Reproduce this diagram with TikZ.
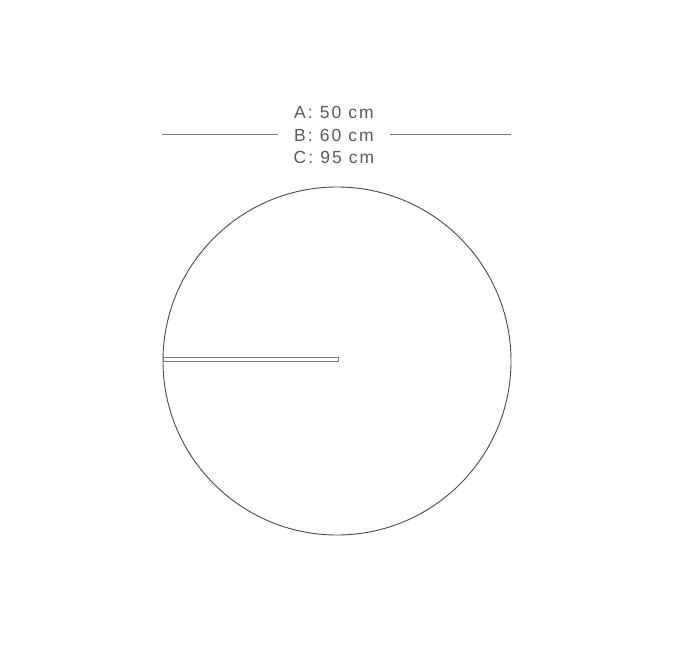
\documentclass[tikz,border=0pt]{standalone}
\usepackage{fontspec}
\setmainfont[LetterSpace=12]{Liberation Sans}
\definecolor{txtgray}{HTML}{5A5A5A}
\definecolor{linegray}{HTML}{7A7A7A}
\definecolor{circgray}{HTML}{4A4A4A}
\begin{document}
\begin{tikzpicture}[x=1pt,y=-1pt,
  lbl/.style={anchor=base,inner sep=0pt,text=txtgray,font=\fontsize{17.5}{19}\selectfont},
  dimline/.style={draw=linegray,line width=0.9pt},
  outline/.style={draw=circgray,line width=0.9pt}]
\useasboundingbox (0,0) rectangle (691,671);
\fill[white] (0,0) rectangle (691,671);
% labels
\node[lbl] (la) at (334,119) {A: 50 cm};
\node[lbl] (lb) at (334,141.5) {B: 60 cm};
\node[lbl] (lc) at (334,164) {C: 95 cm};
% dimension line
\coordinate (d1) at (162,134.5);
\coordinate (d2) at (278,134.5);
\coordinate (d3) at (390,134.5);
\coordinate (d4) at (511,134.5);
\draw[dimline] (d1) -- (d2);
\draw[dimline] (d3) -- (d4);
% circle
\node[outline,circle,minimum size=348pt,inner sep=0pt] (c) at (337,361) {};
% bar
\draw[draw=linegray,line width=0.8pt] (163.5,357) rectangle (338,361.5);
\end{tikzpicture}
\end{document}
